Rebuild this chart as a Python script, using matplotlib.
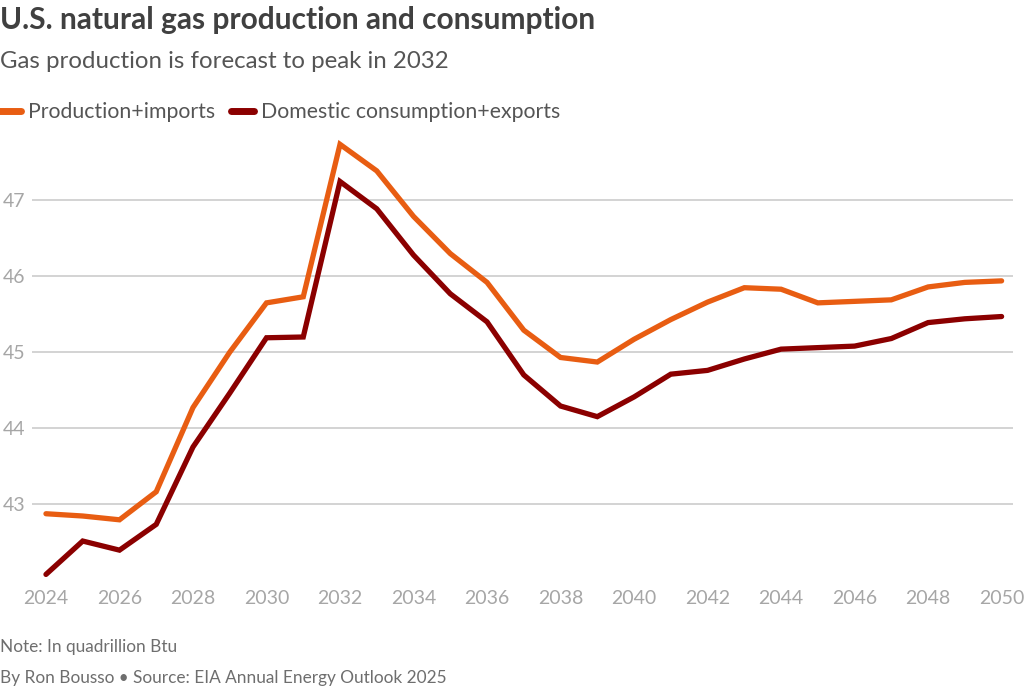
import matplotlib
matplotlib.use("Agg")
import matplotlib.pyplot as plt

years = list(range(2024, 2051))
production = [42.87, 42.84, 42.79, 43.16, 44.27, 45.00, 45.65, 45.73, 47.74, 47.39,
              46.79, 46.30, 45.92, 45.29, 44.93, 44.87, 45.17, 45.43, 45.66, 45.85,
              45.83, 45.65, 45.67, 45.69, 45.86, 45.92, 45.94]
consumption = [42.07, 42.51, 42.39, 42.73, 43.75, 44.46, 45.19, 45.20, 47.25, 46.89,
               46.28, 45.77, 45.40, 44.70, 44.29, 44.15, 44.41, 44.71, 44.76, 44.91,
               45.04, 45.06, 45.08, 45.18, 45.39, 45.44, 45.47]
series_names = ["Production+imports", "Domestic consumption+exports"]
y_ticks = [43, 44, 45, 46, 47]
x_ticks = list(range(2024, 2051, 2))

plt.rcParams['font.family'] = ['Lato', 'DejaVu Sans']

W, H = 1024, 689
fig = plt.figure(figsize=(W / 100, H / 100), dpi=100)
ax = fig.add_axes([32 / W, 1 - 582 / H, (1013 - 32) / W, (582 - 136) / H])

orange = '#e85d12'
darkred = '#8b0000'
ax.plot(years, production, color=orange, lw=3.8, solid_joinstyle='miter', solid_capstyle='round',
        label=series_names[0], zorder=3)
ax.plot(years, consumption, color=darkred, lw=3.8, solid_joinstyle='miter', solid_capstyle='round',
        label=series_names[1], zorder=3)

ax.set_xlim(2023.62, 2050.31)
ax.set_ylim(41.97, 47.85)
ax.set_yticks(y_ticks)
ax.set_xticks(x_ticks)
ax.yaxis.grid(True, color='#cccccc', lw=1.2)
ax.xaxis.grid(False)
for s in ax.spines.values():
    s.set_visible(False)
ax.tick_params(axis='both', length=0, labelsize=14, labelcolor='#a6a6a6')
ax.tick_params(axis='y', pad=5)
ax.tick_params(axis='x', pad=6)

fig.text(0.0, 1 - 20 / H, "U.S. natural gas production and consumption", fontsize=21.5,
         fontweight='bold', color='#404040', va='center', ha='left')
fig.text(0.0, 1 - 62 / H, "Gas production is forecast to peak in 2032", fontsize=17.3,
         color='#555555', va='center', ha='left')

leg = ax.legend(loc='center left', bbox_to_anchor=(-0.002, 1 - 112 / H), bbox_transform=fig.transFigure,
                ncol=2, frameon=False, handlelength=1.1, handletextpad=0.3, columnspacing=0.75,
                borderaxespad=0, borderpad=0, fontsize=15.3)
for t in leg.get_texts():
    t.set_color('#555555')
for h in leg.get_lines():
    h.set_linewidth(5)
    h.set_solid_capstyle('round')

fig.text(0.0, 1 - 647 / H, "Note: In quadrillion Btu", fontsize=12.4,
         color='#6e6e6e', va='center', ha='left')
fig.text(0.0, 1 - 678 / H, "By Ron Bousso \u2022 Source: EIA Annual Energy Outlook 2025", fontsize=12.4,
         color='#6e6e6e', va='center', ha='left')

fig.savefig('out.png', dpi=100, facecolor='white')
